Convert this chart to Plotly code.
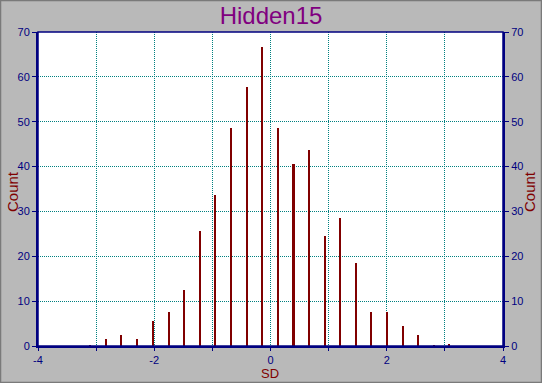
import plotly.graph_objects as go

sd = [-3.10, -2.83, -2.56, -2.30, -2.02, -1.75, -1.49, -1.21, -0.955, -0.68, -0.40, -0.145,
      0.13, 0.40, 0.67, 0.94, 1.20, 1.48, 1.73, 2.01, 2.29, 2.545, 2.82, 3.08]
counts = [0.2, 1.5, 2.5, 1.5, 5.6, 7.6, 12.5, 25.6, 33.7, 48.6, 57.8, 66.7,
          48.7, 40.6, 43.7, 24.5, 28.5, 18.5, 7.6, 7.6, 4.5, 2.5, 0.2, 0.5]
x_ticks = [-4, -3, -2, -1, 0, 1, 2, 3, 4]
x_labels = ["-4", "", "-2", "", "0", "", "2", "", "4"]
y_ticks = [0, 10, 20, 30, 40, 50, 60, 70]

W, H = 542, 383
ML, MR, MT, MB = 38, 39, 32, 37
pw, ph = W - ML - MR, H - MT - MB

navy = "#000080"
dred = "#800000"
teal = "#008080"
font = "Liberation Sans, Arial, sans-serif"


def px_x(p):
    return (p - ML) / pw


def px_y(p):
    return 1 - (p - MT) / ph


fig = go.Figure()
fig.add_trace(go.Bar(x=sd, y=counts, width=0.026, marker=dict(color=dred, line=dict(width=0)),
                     showlegend=False))
fig.add_trace(go.Scatter(x=[None], y=[None], yaxis="y2", showlegend=False))

axis_common = dict(showline=True, linecolor=navy, linewidth=2, mirror=False, automargin=False,
                   tickcolor=navy, tickwidth=1, ticks="outside",
                   tickfont=dict(family=font, size=11, color=navy),
                   gridcolor=teal, griddash="1px,1px", gridwidth=1, zeroline=False)

fig.update_layout(
    width=W, height=H,
    margin=dict(l=ML, r=MR, t=MT, b=MB, pad=0, autoexpand=False),
    paper_bgcolor="#B9B9B9", plot_bgcolor="white",
    bargap=0,
    title=dict(text="Hidden15", x=0.5, xanchor="center", y=1 - 16 / H, yanchor="middle",
               font=dict(family=font, size=24, color="#800080")),
    xaxis=dict(range=[-4, 4], tickmode="array", tickvals=x_ticks, ticktext=x_labels,
               ticklen=3, showgrid=True, **axis_common),
    yaxis=dict(range=[0, 70], tickmode="array", tickvals=y_ticks, ticklen=4,
               showgrid=True, **axis_common),
    yaxis2=dict(range=[0, 70], tickmode="array", tickvals=y_ticks, overlaying="y", side="right",
                ticklen=4, showgrid=False, **axis_common),
    annotations=[
        dict(text="SD", xref="paper", yref="paper", x=px_x(270), y=px_y(373),
             xanchor="center", yanchor="middle", showarrow=False, borderpad=0,
             font=dict(family=font, size=13, color=dred)),
        dict(text="Count", xref="paper", yref="paper", x=px_x(12), y=px_y(192),
             xanchor="center", yanchor="middle", textangle=-90, showarrow=False, borderpad=0,
             font=dict(family=font, size=15, color=dred)),
        dict(text="Count", xref="paper", yref="paper", x=px_x(529), y=px_y(192),
             xanchor="center", yanchor="middle", textangle=-90, showarrow=False, borderpad=0,
             font=dict(family=font, size=15, color=dred)),
    ],
    shapes=[
        dict(type="rect", xref="paper", yref="paper", x0=0, x1=1, y0=0, y1=1,
             line=dict(color=navy, width=1.5), layer="above"),
        dict(type="rect", xref="paper", yref="paper",
             x0=-(ML - 0.5) / pw, x1=1 + (MR - 0.5) / pw,
             y0=-(MB - 0.5) / ph, y1=1 + (MT - 0.5) / ph,
             line=dict(color="#7A7A7A", width=1.5)),
    ],
)

fig.write_html("out.html")
